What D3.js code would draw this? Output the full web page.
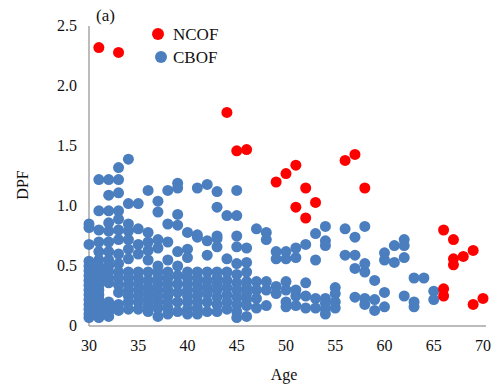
<!DOCTYPE html>
<html>
<head>
<meta charset="utf-8">
<script src="https://cdn.jsdelivr.net/npm/d3@7"></script>
<style>
  body { margin: 0; background: #fff; }
  svg text { font-family: 'Liberation Serif', 'Times New Roman', serif; fill: #111; }
</style>
</head>
<body>
<div class="graphic"></div>
<script>
// tick labels
const xTicks = [30, 35, 40, 45, 50, 55, 60, 65, 70];
const yTicks = [0, 0.5, 1.0, 1.5, 2.0, 2.5];
const yTickLabels = ['0', '0.5', '1.0', '1.5', '2.0', '2.5'];

// NCOF points (age, DPF)
const ncofAge = [31, 33, 44, 45, 46, 49, 50, 51, 52, 53, 51, 52, 56, 57, 58, 66, 67, 67, 67, 68, 69, 66, 66, 69, 70];
const ncofDpf = [2.32, 2.28, 1.78, 1.46, 1.47, 1.2, 1.27, 1.34, 1.15, 1.03, 0.99, 0.9, 1.38, 1.43, 1.15, 0.8, 0.72, 0.56, 0.51, 0.58, 0.63, 0.31, 0.25, 0.18, 0.23];

// CBOF points, grouped by age
const cbofAge = [30, 31, 32, 33, 34, 35, 36, 37, 38, 39, 40, 41, 42, 43, 44, 45, 46, 47, 48, 49, 50,
  51, 52, 53, 54, 55, 56, 57, 58, 59, 60, 61, 62, 63, 64, 65];
const cbofDpf = [
  [0.85, 0.82, 0.68, 0.54, 0.5, 0.46, 0.42, 0.38, 0.34, 0.3, 0.26, 0.22, 0.18, 0.14, 0.1, 0.07],
  [1.22, 0.96, 0.8, 0.7, 0.62, 0.55, 0.5, 0.46, 0.42, 0.38, 0.34, 0.3, 0.26, 0.22, 0.18, 0.14, 0.1, 0.07],
  [1.22, 1.09, 0.96, 0.86, 0.79, 0.7, 0.62, 0.55, 0.5, 0.45, 0.4, 0.36, 0.2, 0.16, 0.12, 0.08],
  [1.32, 1.22, 1.11, 0.96, 0.89, 0.8, 0.72, 0.6, 0.52, 0.45, 0.4, 0.34, 0.28, 0.18, 0.13],
  [1.39, 1.02, 0.85, 0.79, 0.72, 0.64, 0.56, 0.45, 0.4, 0.35, 0.3, 0.25, 0.2, 0.14],
  [1.02, 0.81, 0.68, 0.6, 0.45, 0.4, 0.35, 0.3, 0.25, 0.2, 0.14],
  [1.13, 0.78, 0.7, 0.63, 0.55, 0.45, 0.38, 0.32, 0.27, 0.22, 0.17, 0.12],
  [1.04, 0.95, 0.72, 0.65, 0.5, 0.45, 0.4, 0.35, 0.3, 0.25, 0.2, 0.15, 0.08],
  [1.13, 0.85, 0.7, 0.55, 0.45, 0.4, 0.35, 0.3, 0.25, 0.2, 0.15, 0.1],
  [1.19, 1.15, 0.93, 0.84, 0.62, 0.5, 0.42, 0.35, 0.28, 0.2, 0.12],
  [0.78, 0.64, 0.57, 0.45, 0.4, 0.35, 0.3, 0.25, 0.2, 0.14, 0.1],
  [1.15, 0.76, 0.74, 0.45, 0.4, 0.35, 0.3, 0.25, 0.2, 0.15, 0.1],
  [1.18, 0.71, 0.59, 0.45, 0.38, 0.32, 0.27, 0.2, 0.12],
  [1.12, 0.99, 0.75, 0.73, 0.66, 0.45, 0.4, 0.35, 0.3, 0.24, 0.18, 0.12],
  [0.92, 0.56, 0.45, 0.38, 0.32, 0.26, 0.2, 0.14],
  [1.13, 0.92, 0.75, 0.66, 0.52, 0.43, 0.36, 0.3, 0.24, 0.18, 0.12, 0.07],
  [0.65, 0.53, 0.45, 0.37, 0.32, 0.27, 0.22, 0.17, 0.08],
  [0.81, 0.37, 0.3, 0.23, 0.15],
  [0.78, 0.72, 0.37, 0.3, 0.17],
  [0.62, 0.56, 0.33, 0.27],
  [0.62, 0.56, 0.37, 0.3, 0.2, 0.16],
  [0.65, 0.57, 0.3, 0.25, 0.17],
  [0.68, 0.36, 0.25, 0.15],
  [0.77, 0.55, 0.23, 0.15],
  [0.83, 0.71, 0.67, 0.23, 0.19, 0.14, 0.1],
  [0.32, 0.27, 0.2, 0.15],
  [0.81, 0.59],
  [0.74, 0.59, 0.48, 0.24],
  [0.83, 0.52, 0.45, 0.23, 0.18],
  [0.38, 0.22, 0.13],
  [0.61, 0.55, 0.28, 0.16],
  [0.67, 0.53],
  [0.72, 0.67, 0.57, 0.25],
  [0.4, 0.2, 0.16],
  [0.4],
  [0.29, 0.22]
];

const width = 492, height = 388;
const blue = '#4a7ebf', red = '#ff0000';

const svg = d3.select('.graphic')
  .append('svg')
  .attr('width', width)
  .attr('height', height);

const x = d3.scaleLinear().domain([30, 70]).range([89, 483]);
const y = d3.scaleLinear().domain([0, 2.5]).range([326, 26]);

// axes lines (no ticks)
svg.append('line')
  .attr('x1', x(30)).attr('x2', 486)
  .attr('y1', y(0)).attr('y2', y(0))
  .style('stroke', '#a6a6a6').style('stroke-width', 1.5);
svg.append('line')
  .attr('x1', x(30)).attr('x2', x(30))
  .attr('y1', y(0)).attr('y2', y(2.5))
  .style('stroke', '#a6a6a6').style('stroke-width', 1.5);

svg.selectAll('.xlab')
  .data(xTicks)
  .enter().append('text')
  .attr('class', 'xlab')
  .attr('x', d => x(d))
  .attr('y', 351)
  .attr('text-anchor', 'middle')
  .style('font-size', '16px')
  .text(d => d);

svg.selectAll('.ylab')
  .data(yTicks)
  .enter().append('text')
  .attr('class', 'ylab')
  .attr('x', 77)
  .attr('y', d => y(d) + 5)
  .attr('text-anchor', 'end')
  .style('font-size', '16px')
  .text((d, i) => yTickLabels[i]);

svg.append('text')
  .attr('x', 284)
  .attr('y', 380)
  .attr('text-anchor', 'middle')
  .style('font-size', '16px')
  .text('Age');

svg.append('text')
  .attr('transform', 'translate(28,185) rotate(-90)')
  .attr('text-anchor', 'middle')
  .style('font-size', '16px')
  .text('DPF');

svg.append('text')
  .attr('x', 96)
  .attr('y', 21)
  .style('font-size', '17px')
  .text('(a)');

// flatten cbof columns into points
const cbof = [];
cbofAge.forEach((a, i) => {
  cbofDpf[i].forEach(v => cbof.push([a, v]));
});
const ncof = ncofAge.map((a, i) => [a, ncofDpf[i]]);

svg.append('g').selectAll('circle')
  .data(cbof)
  .enter().append('circle')
  .attr('cx', d => x(d[0]))
  .attr('cy', d => y(d[1]))
  .attr('r', 5.5)
  .style('fill', blue);

svg.append('g').selectAll('circle')
  .data(ncof)
  .enter().append('circle')
  .attr('cx', d => x(d[0]))
  .attr('cy', d => y(d[1]))
  .attr('r', 5.5)
  .style('fill', red);

// legend
const legendItems = [['NCOF', red], ['CBOF', blue]];
const legend = svg.selectAll('.legend')
  .data(legendItems)
  .enter().append('g')
  .attr('class', 'legend');

legend.append('circle')
  .attr('cx', (d, i) => 158 + i * 3)
  .attr('cy', (d, i) => 34 + i * 23)
  .attr('r', 6)
  .style('fill', d => d[1]);

legend.append('text')
  .attr('x', 173)
  .attr('y', (d, i) => 40 + i * 23)
  .style('font-size', '17px')
  .text(d => d[0]);
</script>
</body>
</html>
